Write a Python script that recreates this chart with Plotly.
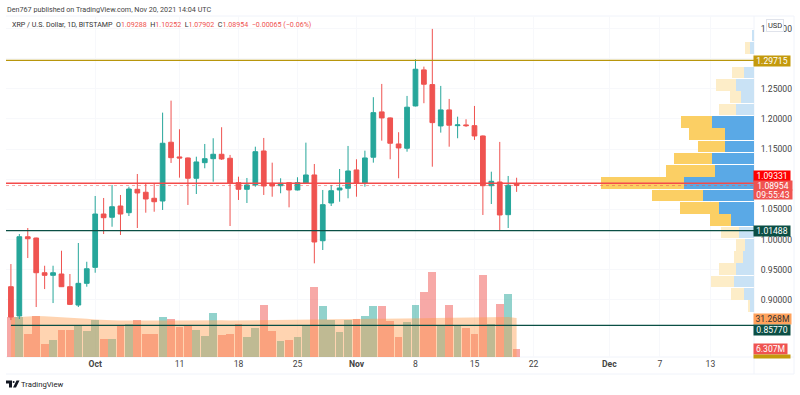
import pandas as pd
import plotly.graph_objects as go

dates = pd.date_range("2021-09-21", "2021-11-20").strftime("%Y-%m-%d").tolist()
opens = [.9217,.8731,1.0046,1.0025,.9449,.9406,.9428,.9217,.8913,.9273,
 .9538,1.0423,1.0369,1.0556,1.0445,1.0833,1.0784,1.0684,1.0639,1.1614,
 1.137,1.1353,1.1016,1.1275,1.1341,1.1414,1.1348,1.0943,1.0833,1.0905,
 1.1469,1.0933,1.0893,1.0943,1.0822,1.0933,1.1071,.998,1.0606,1.0822,1.085,
 1.1154,1.0933,1.1365,1.2117,1.2017,1.1585,1.1514,1.2216,1.2814,1.257,
 1.1884,1.215,1.1889,1.1901,1.1889,1.1718,1.0893,1.0954,1.0412,1.09288]
highs = [.9593,1.0091,1.0191,1.003,.9565,.9565,.9814,.9428,.9942,.9631,
 1.0722,1.0689,1.0905,1.0739,1.0876,1.1087,1.0938,1.0938,1.2105,1.2304,
 1.1829,1.136,1.1374,1.1585,1.168,1.1863,1.1403,1.1042,1.1021,1.154,
 1.1685,1.1275,1.1016,1.095,1.1033,1.1607,1.1253,1.0822,1.0905,1.117,1.1552,
 1.1331,1.1474,1.2361,1.2581,1.2025,1.178,1.2382,1.2991,1.2868,1.3494,
 1.2548,1.2332,1.2038,1.1995,1.2216,1.1726,1.1125,1.1619,1.1054,1.10252]
lows = [.8664,.8681,.9693,.888,.9178,.8946,.9212,.8913,.888,.9217,
 .9449,1.0091,1.0212,1.0075,1.039,1.0191,1.0445,1.0461,1.049,1.127,
 1.1026,1.0573,1.0755,1.1182,1.0959,1.132,1.0224,1.0656,1.0606,1.0876,
 1.0739,1.071,1.0767,1.0534,1.0814,1.093,.9605,.9826,1.0556,1.0627,1.0684,
 1.071,1.0876,1.1275,1.164,1.1331,1.1016,1.1457,1.2208,1.2261,1.1208,
 1.1773,1.154,1.168,1.1868,1.1652,1.0407,1.0589,1.0158,1.0191,1.07902]
closes = [.8714,1.0046,1.0013,.9449,.9406,.9449,.9217,.8924,.9273,.9515,
 1.0423,1.0362,1.0544,1.0423,1.0838,1.0772,1.0672,1.0627,1.1597,1.1358,
 1.1353,1.1016,1.1287,1.1341,1.1414,1.1336,1.0933,1.0833,1.0905,1.1457,
 1.0888,1.0888,1.0933,1.0822,1.0943,1.1071,.9959,1.0578,1.081,1.0855,1.1137,
 1.0933,1.1353,1.2105,1.2017,1.1597,1.1519,1.2195,1.2825,1.2576,1.1939,
 1.215,1.1896,1.1901,1.1889,1.1718,1.0893,1.0966,1.0407,1.09,1.08954]
volumes = [30.3,30.3,17.2,31.0,9.6,12.6,20.2,20.2,23.5,19.4,
 28.3,13.9,13.4,23.5,25.2,27.8,17.2,17.2,30.0,29.0,
 22.7,23.2,20.7,15.9,33.6,16.4,17.7,25.2,14.9,22.2,
 39.1,19.9,12.4,13.1,15.1,24.5,53.0,38.9,28.3,19.2,27.8,
 28.8,31.3,38.9,38.4,27.0,14.9,26.7,39.4,49.5,64.3,
 23.2,39.1,23.7,21.7,17.4,62.1,25.2,40.4,47.7,6.307]
volume_ma = [30.0,30.5,30.8,31.0,30.8,30.5,30.2,30.0,29.5,29.0,
 28.5,28.0,27.8,27.6,27.5,27.5,27.4,27.5,27.6,27.6,
 27.7,27.7,27.7,27.7,27.8,27.8,27.7,27.8,27.8,27.9,
 27.9,27.9,28.0,28.0,28.1,28.2,28.3,28.4,28.5,28.5,28.6,
 28.8,28.8,28.9,28.9,28.9,28.9,29.0,29.1,29.3,29.5,
 29.6,29.8,29.9,30.0,30.0,30.1,30.1,30.2,30.3,29.5]

profile_prices = [1.3382,1.3178,1.2974,1.277,1.2566,1.2362,1.2158,1.1954,1.175,1.1546,
 1.1342,1.1138,1.0934,1.073,1.0526,1.0322,1.0118,.9914,.971,.9506,.9302,.9098,.8894]
profile_up = [2,4.3,0,9.7,17.7,12.7,17.7,41.7,28.7,28.7,41.7,38.7,70,51,35,23,14.7,9,11,17.7,20,9.7,3.7]
profile_down = [0,4.3,0,12.3,20.3,11.7,17.7,31,36.7,27.3,38.7,49,82.7,50.7,38.7,21.3,18.3,8.7,8.7,17.7,22.7,13,2.7]
profile_in_value_area = [0,0,0,0,0,0,0,1,1,1,1,1,1,1,1,1,0,0,0,0,0,0,0]

price_ticks = [1.35,1.30,1.25,1.20,1.15,1.10,1.05,1.00,.95,.90]
price_labels = ["1.35000","","1.25000","1.20000","1.15000","","1.05000","1.00000","0.95000","0.90000"]
date_ticks = ["2021-10-01","2021-10-11","2021-10-18","2021-10-25","2021-11-01","2021-11-08",
              "2021-11-15","2021-11-22","2021-12-01","2021-12-07","2021-12-13"]
date_labels = ["<b>Oct</b>","11","18","25","<b>Nov</b>","8","15","22","<b>Dec</b>","7","13"]
levels = [(1.29715,"#b8960c",None),(1.09331,"#f44a4a",None),(1.01488,"#0b4f45",None),(.8577,"#0b4f45","2021-09-21")]

GREEN, RED = "#26a69a", "#ef5350"
FONT = "Roboto"
W, H = 800, 395
L, R, T, B = 6, 754, 16, 357
def px(x): return (x - L) / (R - L)
def py(y): return (B - y) / (B - T)

fig = go.Figure()
bar_colors = ["rgba(239,83,80,.5)" if c < o else "rgba(38,166,154,.5)" for o, c in zip(opens, closes)]
fig.add_bar(x=dates, y=volumes, marker=dict(color=bar_colors, line_width=0), xaxis="x", yaxis="y")
fig.add_scatter(x=dates, y=volume_ma, mode="lines", line=dict(width=0), fill="tozeroy",
                fillcolor="rgba(255,152,70,.42)", xaxis="x", yaxis="y")
fig.add_bar(y=profile_prices, x=profile_up, orientation="h", width=.0193, xaxis="x2", yaxis="y2",
            marker=dict(color=["#5aa9e6" if v else "#c9e2f5" for v in profile_in_value_area], line_width=0))
fig.add_bar(y=profile_prices, x=profile_down, orientation="h", width=.0193, xaxis="x2", yaxis="y2",
            marker=dict(color=["#fbcf64" if v else "#fdedc8" for v in profile_in_value_area], line_width=0))
fig.add_candlestick(x=dates, open=opens, high=highs, low=lows, close=closes, xaxis="x", yaxis="y2",
                    whiskerwidth=0,
                    increasing=dict(line=dict(color=GREEN, width=1), fillcolor=GREEN),
                    decreasing=dict(line=dict(color=RED, width=1), fillcolor=RED))

shapes = []
for level, color, start in levels:
    if start:
        shapes.append(dict(type="line", xref="x", yref="y2", x0=start, x1="2021-12-18 04:00", y0=level, y1=level,
                           line=dict(color=color, width=1.3)))
    else:
        shapes.append(dict(type="line", xref="paper", yref="y2", x0=0, x1=1, y0=level, y1=level,
                           line=dict(color=color, width=1.3)))
shapes.append(dict(type="line", xref="paper", yref="y2", x0=0, x1=1, y0=closes[-1], y1=closes[-1],
                   line=dict(color="rgba(239,83,80,.5)", width=1, dash="dot")))
frame = "#f0f3fa"
for x0, y0, x1, y1 in [(L, T, 794, T), (L, B, 794, B), (L, 374, 794, 374), (R, T, R, 374), (794, T, 794, 374)]:
    shapes.append(dict(type="line", xref="paper", yref="paper", x0=px(x0), x1=px(x1), y0=py(y0), y1=py(y1),
                       layer="below", line=dict(color=frame, width=1)))
# logo
shapes += [
    dict(type="path", xref="paper", yref="paper", fillcolor="#131722", line_width=0,
         path=f"M {px(6)} {py(380.5)} L {px(12)} {py(380.5)} L {px(12)} {py(387.5)} L {px(9)} {py(387.5)} L {px(9)} {py(383.5)} L {px(6)} {py(383.5)} Z"),
    dict(type="path", xref="paper", yref="paper", fillcolor="#131722", line_width=0,
         path=f"M {px(16.5)} {py(380.5)} L {px(19.5)} {py(380.5)} L {px(16)} {py(387.5)} L {px(13)} {py(387.5)} Z"),
    dict(type="circle", xref="paper", yref="paper", fillcolor="#131722", line_width=0,
         x0=px(12.6), x1=px(14.6), y0=py(383), y1=py(381)),
]

def label(cx_left, cy, w, h, text, bg, color="#ffffff", size=8.6):
    return dict(xref="paper", yref="paper", x=px(cx_left), y=py(cy), xanchor="left", yanchor="middle",
                text=text, showarrow=False, bgcolor=bg, width=w, height=h, align="center", borderpad=0,
                font=dict(family=FONT, size=size, color=color))

red = "#ef5350"
title = (f"XRP / U.S. Dollar, 1D, BITSTAMP  O<span style='color:{red}'>1.09288</span>  H<span style='color:{red}'>1.10252</span>"
         f"  L<span style='color:{red}'>1.07902</span>  C<span style='color:{red}'>1.08954</span>  <span style='color:{red}'>−0.00065 (−0.06%)</span>")
annotations = [
    dict(xref="paper", yref="paper", x=px(5), y=py(9), xanchor="left", yanchor="middle", showarrow=False,
         text="Den767 published on TradingView.com, Nov 20, 2021 14:04 UTC", font=dict(family=FONT, size=7.2, color="#444")),
    dict(xref="paper", yref="paper", x=px(10), y=py(25), xanchor="left", yanchor="middle", showarrow=False,
         text=title, font=dict(family=FONT, size=7.1, color="#333")),
    dict(xref="paper", yref="paper", x=px(19), y=py(384), xanchor="left", yanchor="middle", showarrow=False,
         text="TradingView", font=dict(family=FONT, size=7.7, color="#222")),
    label(753, 60.5, 36, 9.5, "1.29715", "#c49a0c"),
    label(753, 175.5, 36, 9.5, "1.09331", "#ff0000"),
    label(753, 185.5, 38, 9, "1.08954", "#ef5350"),
    label(753, 194.5, 38, 9, "09:55:43", "#ef5350"),
    label(753, 230.5, 36, 9.5, "1.01488", "#0b4f45"),
    label(753, 319, 37, 10, "31.268M", "#ffa25c", "#333"),
    label(753, 329.5, 36, 9.5, "0.85770", "#0b4f45"),
    label(753, 349, 33, 10, "6.307M", "#ef5350"),
    label(753, 356, 36, 3, "", "#c49a0c"),
    dict(xref="paper", yref="paper", x=px(774.5), y=py(25.5), xanchor="center", yanchor="middle", showarrow=False,
         text="USD", bgcolor="#ffffff", bordercolor="#e0e3eb", borderwidth=1, borderpad=1, font=dict(family=FONT, size=7.5, color="#333")),
]

axis_font = dict(family=FONT, size=8.6, color="#444")
fig.update_layout(
    width=W, height=H, margin=dict(l=L, r=W - R, t=T, b=H - B, autoexpand=False), paper_bgcolor="#fff", plot_bgcolor="#fff",
    showlegend=False, barmode="stack", bargap=.08, boxgap=.2,
    xaxis=dict(type="date", range=["2021-09-20 10:00", "2021-12-18 04:00"], tickmode="array", tickvals=date_ticks,
               ticktext=date_labels, tickfont=axis_font, ticklen=0, gridcolor="#f7f8fb", showline=False, zeroline=False,
               rangeslider=dict(visible=False), ticks=""),
    xaxis2=dict(overlaying="x", range=[748, 0], visible=False, showgrid=False, zeroline=False),
    yaxis=dict(range=[0, 258.3], visible=False, showgrid=False, zeroline=False),
    yaxis2=dict(overlaying="y", side="right", range=[.8051, 1.3708], tickmode="array", tickvals=price_ticks,
                ticktext=price_labels, tickfont=axis_font, ticklen=4, ticks="outside", tickcolor="rgba(0,0,0,0)",
                gridcolor="#f7f8fb", zeroline=False, showline=False),
    shapes=shapes, annotations=annotations,
)
fig.write_html("out.html", config={"displayModeBar": False}, post_script="document.body.style.margin='0';")
